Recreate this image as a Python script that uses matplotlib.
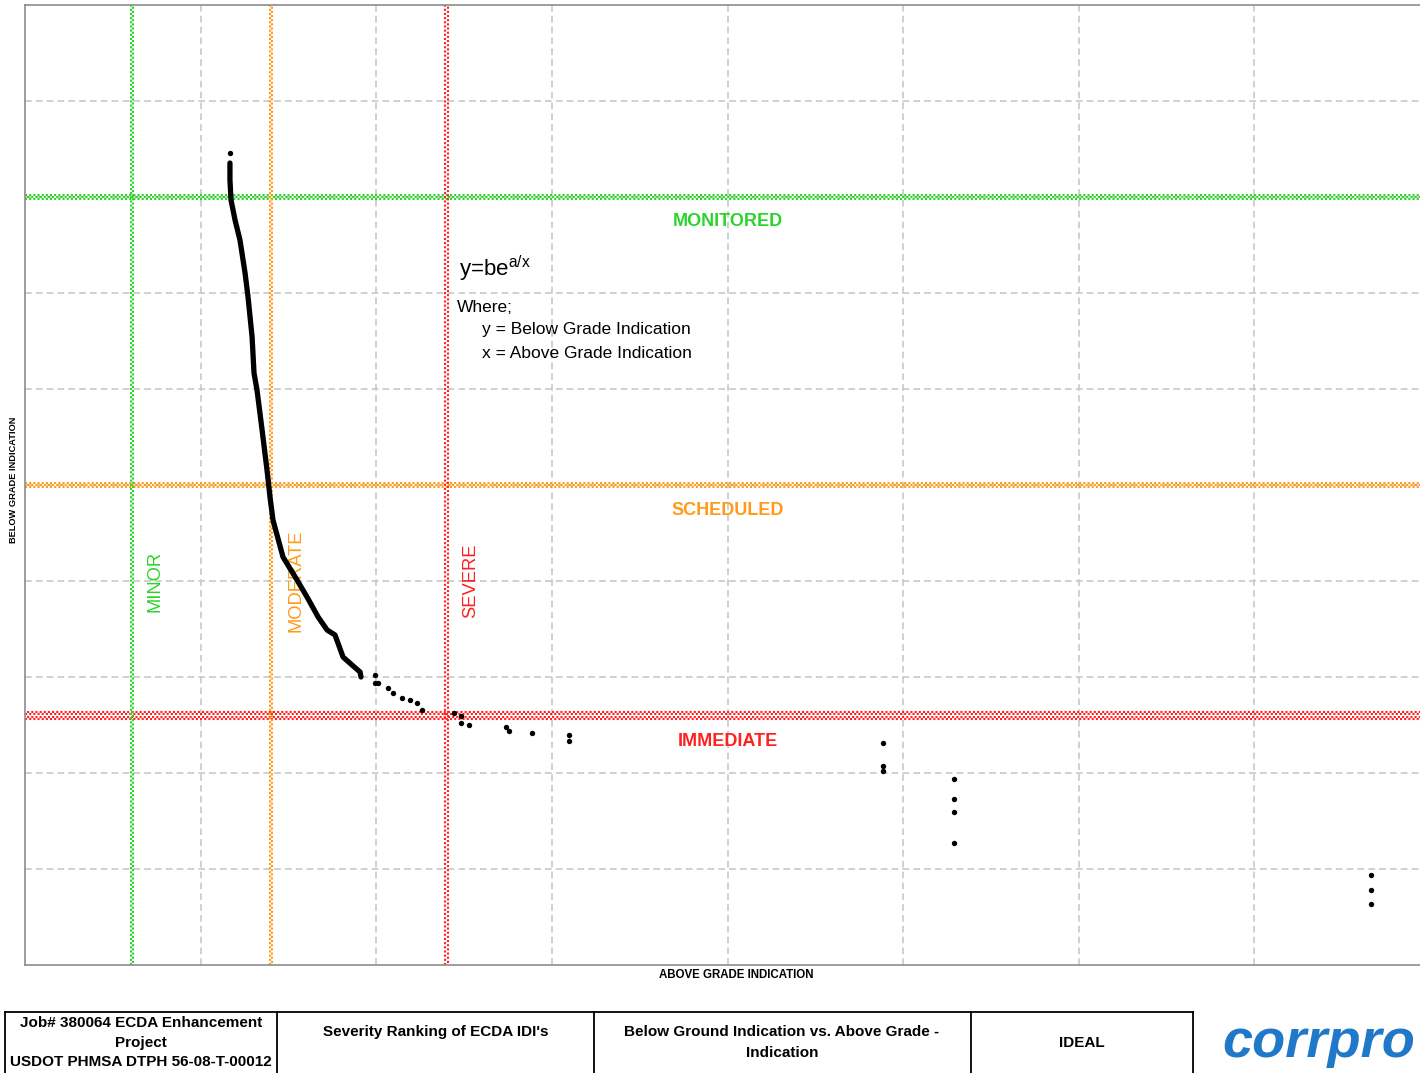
import numpy as np
import matplotlib.pyplot as plt
from matplotlib.lines import Line2D

plt.rcParams['font.family'] = ['Liberation Sans', 'DejaVu Sans']

# --- data ---
# dense part of the fitted curve (drawn as a thick line)
curve_x = [1.167, 1.167, 1.173, 1.196, 1.224, 1.253, 1.270, 1.293, 1.304, 1.321,
           1.350, 1.378, 1.395, 1.412, 1.469, 1.549, 1.606, 1.669, 1.720, 1.765,
           1.782, 1.811, 1.862, 1.908, 1.913]
curve_y = [8.354, 8.177, 7.969, 7.760, 7.552, 7.208, 6.958, 6.542, 6.167, 5.990,
           5.573, 5.156, 4.875, 4.635, 4.250, 4.010, 3.833, 3.625, 3.490, 3.438,
           3.354, 3.208, 3.125, 3.052, 3.000]

# individual indications
point_x = [1.167, 1.993, 1.993, 2.010, 2.067, 2.096, 2.147, 2.192, 2.232, 2.261,
           2.443, 2.483, 2.483, 2.528, 2.739, 2.756, 2.887, 3.098, 3.098,
           4.886, 4.886, 4.886, 5.290, 5.290, 5.290, 5.290,
           7.665, 7.665, 7.665]
point_y = [8.458, 3.021, 2.938, 2.938, 2.885, 2.833, 2.781, 2.760, 2.729, 2.656,
           2.625, 2.594, 2.521, 2.500, 2.479, 2.438, 2.417, 2.396, 2.333,
           2.313, 2.073, 2.021, 1.938, 1.729, 1.594, 1.271,
           0.938, 0.781, 0.635]

# severity thresholds
minor_x, moderate_x, severe_x = 0.61, 1.40, 2.40
monitored_y, scheduled_y, immediate_y = 8.0, 5.0, 2.6

green = '#2ad42a'
orange = '#ff9a1a'
red = '#ff2020'

fig = plt.figure(figsize=(14.2, 10.73), dpi=100)
W, H = 1420, 1073

# main axes: left spine at px 25, top at px 5, bottom at px 965
ax = fig.add_axes([25 / W, 108 / H, 1405 / W, 960 / H])
ax.set_xlim(0, 8)
ax.set_ylim(0, 10)
ax.set_xticks(np.arange(1, 8))
ax.set_yticks(np.arange(1, 10))
ax.tick_params(length=0, labelbottom=False, labelleft=False)
ax.grid(True, color='#c8c8c8', lw=1.2, linestyle=(0, (4, 2.5)))
ax.set_axisbelow(True)
for s in ax.spines.values():
    s.set_color('#8c8c8c')
    s.set_linewidth(1.2)


def band(ax, pos, color, rows, horizontal=True):
    # textured dotted band made of offset rows of dots
    step = 2.2 / 96 if horizontal else 2.2 / 175.6
    offs = (np.arange(rows) - (rows - 1) / 2) * step
    for i, o in enumerate(offs):
        ls = (i % 2 * 1.0, (1, 1))
        if horizontal:
            ax.axhline(pos + o, color=color, lw=1.5, linestyle=ls, zorder=2)
        else:
            ax.axvline(pos + o, color=color, lw=1.5, linestyle=ls, zorder=2)


band(ax, monitored_y, green, 3)
band(ax, scheduled_y, orange, 3)
band(ax, immediate_y, red, 4)
band(ax, minor_x, green, 2, horizontal=False)
band(ax, moderate_x, orange, 2, horizontal=False)
band(ax, severe_x, red, 2, horizontal=False)

ax.plot(curve_x, curve_y, color='black', lw=3.8, solid_capstyle='round',
        solid_joinstyle='round', zorder=4)
ax.scatter(point_x, point_y, s=15, color='black', zorder=4, linewidths=0)

ax.text(4.0, 7.74, 'MONITORED', color=green, fontsize=13, fontweight='bold', ha='center', va='center')
ax.text(4.0, 4.73, 'SCHEDULED', color=orange, fontsize=13, fontweight='bold', ha='center', va='center')
ax.text(4.0, 2.33, 'IMMEDIATE', color=red, fontsize=13, fontweight='bold', ha='center', va='center')
ax.text(0.74, 4.0, 'MINOR', color=green, fontsize=13.2, rotation=90, ha='center', va='center')
ax.text(1.543, 4.0, 'MODERATE', color=orange, fontsize=13.2, rotation=90, ha='center', va='center', zorder=3)
ax.text(2.54, 4.0, 'SEVERE', color=red, fontsize=13.2, rotation=90, ha='center', va='center')

ax.text(2.472, 7.25, r'y=be$^{\mathregular{a/x}}$', fontsize=16, ha='left', va='center')
ax.text(2.46, 6.854, 'Where;', fontsize=12.5, ha='left', va='center')
ax.text(2.60, 6.615, 'y = Below Grade Indication', fontsize=12.5, ha='left', va='center')
ax.text(2.60, 6.375, 'x = Above Grade Indication', fontsize=12.5, ha='left', va='center')

# axis titles
fig.text(736 / W, 1 - 975 / H, 'ABOVE GRADE INDICATION', fontsize=8.3, fontweight='bold',
         ha='center', va='center')
fig.text(14 / W, 1 - 480 / H, 'BELOW GRADE INDICATION', fontsize=6.7, fontweight='bold',
         rotation=90, ha='center', va='center')

# title block at the bottom, drawn in pixel coordinates
tb = fig.add_axes([0, 0, 1, 1])
tb.set_xlim(0, W)
tb.set_ylim(H, 0)
tb.axis('off')
tb.patch.set_alpha(0)
tb.add_line(Line2D([5, 1193], [1012, 1012], color='black', lw=1.3))
for xv in [5, 277, 594, 971, 1193]:
    tb.add_line(Line2D([xv, xv], [1012, H + 5], color='black', lw=1.3))

fs = 11
tb.text(141, 1023, 'Job# 380064 ECDA Enhancement', fontsize=fs, fontweight='bold', ha='center', va='center')
tb.text(141, 1043, 'Project', fontsize=fs, fontweight='bold', ha='center', va='center')
tb.text(141, 1062, 'USDOT PHMSA DTPH 56-08-T-00012', fontsize=fs, fontweight='bold', ha='center', va='center')
tb.text(436, 1032, "Severity Ranking of ECDA IDI's", fontsize=fs, fontweight='bold', ha='center', va='center')
tb.text(782, 1032, 'Below Ground Indication vs. Above Grade -', fontsize=fs, fontweight='bold',
        ha='center', va='center')
tb.text(782, 1053, 'Indication', fontsize=fs, fontweight='bold', ha='center', va='center')
tb.text(1082, 1043, 'IDEAL', fontsize=fs, fontweight='bold', ha='center', va='center')
tb.text(1222, 1043, 'corrpro', fontsize=39, fontweight='bold', fontstyle='italic',
        color='#1f78c8', ha='left', va='center')

fig.savefig('out.png', dpi=100)
